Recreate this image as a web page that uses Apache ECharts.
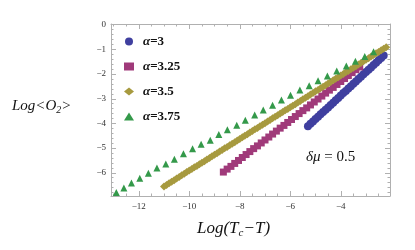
<!DOCTYPE html>
<html><head><meta charset="utf-8">
<script src="https://cdn.jsdelivr.net/npm/echarts@6/dist/echarts.min.js"></script>
<style>html,body{margin:0;padding:0;background:#fff}#c{width:415px;height:250px}</style>
</head><body><div id="c"></div>
<script>
var seriesNames = ['α=3', 'α=3.25', 'α=3.5', 'α=3.75'];
var xMajorTicks = [-12, -10, -8, -6, -4];
var yMajorTicks = [0, -1, -2, -3, -4, -5, -6];
var xMinorTicks = [-13, -12.5, -11.5, -11, -10.5, -9.5, -9, -8.5, -7.5, -7, -6.5, -5.5, -5, -4.5, -3.5, -3, -2.5];
var yMinorTicks = [-0.2,-0.4,-0.6,-0.8,-1.2,-1.4,-1.6,-1.8,-2.2,-2.4,-2.6,-2.8,-3.2,-3.4,-3.6,-3.8,-4.2,-4.4,-4.6,-4.8,-5.2,-5.4,-5.6,-5.8,-6.2,-6.4,-6.6,-6.8];

var alpha3 = [
[-5.3,-4.11],[-5.2,-4.01],[-5.1,-3.92],[-5.0,-3.82],[-4.9,-3.73],[-4.8,-3.63],[-4.7,-3.54],[-4.6,-3.44],
[-4.5,-3.35],[-4.4,-3.25],[-4.3,-3.16],[-4.2,-3.06],[-4.1,-2.97],[-4.0,-2.87],[-3.9,-2.77],[-3.8,-2.68],
[-3.7,-2.58],[-3.6,-2.49],[-3.5,-2.39],[-3.4,-2.30],[-3.3,-2.20],[-3.2,-2.11],[-3.1,-2.01],[-3.0,-1.92],
[-2.9,-1.82],[-2.8,-1.73],[-2.7,-1.63],[-2.6,-1.54],[-2.5,-1.44],[-2.4,-1.35],[-2.3,-1.25]];

var alpha325 = [
[-8.65,-5.97],[-8.50,-5.85],[-8.35,-5.74],[-8.20,-5.62],[-8.05,-5.50],[-7.90,-5.38],[-7.75,-5.26],[-7.60,-5.14],
[-7.45,-5.02],[-7.30,-4.91],[-7.15,-4.79],[-7.00,-4.67],[-6.85,-4.55],[-6.70,-4.43],[-6.55,-4.31],[-6.40,-4.19],
[-6.25,-4.08],[-6.10,-3.96],[-5.95,-3.84],[-5.80,-3.72],[-5.65,-3.60],[-5.50,-3.48],[-5.35,-3.37],[-5.20,-3.25],
[-5.05,-3.13],[-4.90,-3.01],[-4.75,-2.89],[-4.60,-2.77],[-4.45,-2.65],[-4.30,-2.54],[-4.15,-2.42],[-4.00,-2.30],
[-3.85,-2.18],[-3.70,-2.06],[-3.55,-1.94],[-3.40,-1.82],[-3.25,-1.71]];

var alpha35 = [
[-11.0,-6.55],[-10.9,-6.49],[-10.8,-6.42],[-10.7,-6.36],[-10.6,-6.30],[-10.5,-6.23],[-10.4,-6.17],[-10.3,-6.10],
[-10.2,-6.04],[-10.1,-5.97],[-10.0,-5.91],[-9.9,-5.85],[-9.8,-5.78],[-9.7,-5.72],[-9.6,-5.65],[-9.5,-5.59],
[-9.4,-5.53],[-9.3,-5.46],[-9.2,-5.40],[-9.1,-5.33],[-9.0,-5.27],[-8.9,-5.21],[-8.8,-5.14],[-8.7,-5.08],
[-8.6,-5.01],[-8.5,-4.95],[-8.4,-4.88],[-8.3,-4.82],[-8.2,-4.76],[-8.1,-4.69],[-8.0,-4.63],[-7.9,-4.56],
[-7.8,-4.50],[-7.7,-4.44],[-7.6,-4.37],[-7.5,-4.31],[-7.4,-4.24],[-7.3,-4.18],[-7.2,-4.11],[-7.1,-4.05],
[-7.0,-3.99],[-6.9,-3.92],[-6.8,-3.86],[-6.7,-3.79],[-6.6,-3.73],[-6.5,-3.67],[-6.4,-3.60],[-6.3,-3.54],
[-6.2,-3.47],[-6.1,-3.41],[-6.0,-3.34],[-5.9,-3.28],[-5.8,-3.22],[-5.7,-3.15],[-5.6,-3.09],[-5.5,-3.02],
[-5.4,-2.96],[-5.3,-2.90],[-5.2,-2.83],[-5.1,-2.77],[-5.0,-2.70],[-4.9,-2.64],[-4.8,-2.57],[-4.7,-2.51],
[-4.6,-2.45],[-4.5,-2.38],[-4.4,-2.32],[-4.3,-2.25],[-4.2,-2.19],[-4.1,-2.13],[-4.0,-2.06],[-3.9,-2.00],
[-3.8,-1.93],[-3.7,-1.87],[-3.6,-1.80],[-3.5,-1.74],[-3.4,-1.68],[-3.3,-1.61],[-3.2,-1.55],[-3.1,-1.48],
[-3.0,-1.42],[-2.9,-1.36],[-2.8,-1.29],[-2.7,-1.23],[-2.6,-1.16],[-2.5,-1.10],[-2.4,-1.03],[-2.3,-0.97],
[-2.2,-0.91]];

var alpha375 = [
[-12.89,-6.80],[-12.59,-6.62],[-12.29,-6.41],[-11.96,-6.22],[-11.62,-6.02],[-11.28,-5.81],[-10.93,-5.64],[-10.59,-5.45],
[-10.23,-5.23],[-9.87,-5.03],[-9.53,-4.84],[-9.17,-4.68],[-8.83,-4.45],[-8.49,-4.26],[-8.12,-4.07],[-7.78,-3.87],
[-7.41,-3.66],[-7.07,-3.45],[-6.70,-3.26],[-6.35,-3.05],[-5.99,-2.86],[-5.62,-2.64],[-5.25,-2.47],[-4.90,-2.27],
[-4.53,-2.08],[-4.16,-1.87],[-3.78,-1.67],[-3.42,-1.48],[-3.05,-1.29],[-2.70,-1.09]];

var xMin = -13.1, xMax = -2.05, yMin = -6.94, yMax = 0.03;
var frameColor = '#b0b0b0';
var labelFont = {color:'#333', fontFamily:'Liberation Serif', fontSize:9};

function fmt(v){ return String(v).replace('-', '\u2212'); }

function xAx(pos, ticks, len, showLabel, showLine){
  return {type:'value', position:pos, min:xMin, max:xMax, gridIndex:0,
    axisLine:{show:showLine, onZero:false, lineStyle:{color:frameColor, width:1}},
    axisTick:{show:true, inside:true, length:len, customValues:ticks, lineStyle:{color:frameColor}},
    axisLabel:{show:showLabel, customValues:ticks, formatter:fmt, margin:6, color:labelFont.color, fontFamily:labelFont.fontFamily, fontSize:labelFont.fontSize},
    splitLine:{show:false}};
}
function yAx(pos, ticks, len, showLabel, showLine){
  return {type:'value', position:pos, min:yMin, max:yMax, gridIndex:0,
    axisLine:{show:showLine, onZero:false, lineStyle:{color:frameColor, width:1}},
    axisTick:{show:true, inside:true, length:len, customValues:ticks, lineStyle:{color:frameColor}},
    axisLabel:{show:showLabel, customValues:ticks, formatter:fmt, margin:5, color:labelFont.color, fontFamily:labelFont.fontFamily, fontSize:labelFont.fontSize},
    splitLine:{show:false}};
}

var chart = echarts.init(document.getElementById('c'), null, {renderer:'canvas'});
chart.setOption({
  animation:false,
  backgroundColor:'#fff',
  grid:{left:111, right:25, top:24, bottom:54, containLabel:false},
  xAxis:[
    xAx('bottom', xMajorTicks, 5, true, true),
    xAx('bottom', xMinorTicks, 2.5, false, false),
    xAx('top', xMajorTicks, 5, false, true),
    xAx('top', xMinorTicks, 2.5, false, false)
  ],
  yAxis:[
    yAx('left', yMajorTicks, 5, true, true),
    yAx('left', yMinorTicks, 2.5, false, false),
    yAx('right', yMajorTicks, 5, false, true),
    yAx('right', yMinorTicks, 2.5, false, false)
  ],
  legend:{
    orient:'vertical', left:124, top:35, padding:0, itemGap:12, itemWidth:10, itemHeight:8,
    data:[
      {name:seriesNames[0], icon:'circle'},
      {name:seriesNames[1], icon:'rect'},
      {name:seriesNames[2], icon:'diamond'},
      {name:seriesNames[3], icon:'triangle'}
    ],
    formatter:function(n){ return '{a|α}{b|' + n.slice(1) + '}'; },
    textStyle:{rich:{
      a:{fontFamily:'Liberation Serif', fontStyle:'italic', fontWeight:'bold', fontSize:13, lineHeight:14, color:'#111', padding:[0,0,0,4]},
      b:{fontFamily:'Liberation Serif', fontWeight:'bold', fontSize:13, lineHeight:14, color:'#111'}
    }}
  },
  series:[
    {name:seriesNames[0], type:'scatter', data:alpha3, symbol:'circle', symbolSize:8, itemStyle:{color:'#3f3f9f', opacity:1}},
    {name:seriesNames[1], type:'scatter', data:alpha325, symbol:'rect', symbolSize:7, itemStyle:{color:'#a03a7a', opacity:1}},
    {name:seriesNames[2], type:'scatter', data:alpha35, symbol:'diamond', symbolSize:8, itemStyle:{color:'#a79a3f', opacity:1}},
    {name:seriesNames[3], type:'scatter', data:alpha375, symbol:'triangle', symbolSize:7, itemStyle:{color:'#34994a', opacity:1}}
  ],
  graphic:[
    {type:'text', left:12, top:99, style:{
      text:'{i|Log<O}{s|2}{i|>}',
      rich:{
        i:{fontFamily:'Liberation Serif', fontStyle:'italic', fontSize:15, fill:'#111'},
        s:{fontFamily:'Liberation Serif', fontStyle:'italic', fontSize:10, fill:'#111', padding:[8,0,0,0]}
      }}},
    {type:'text', left:197, top:220, style:{
      text:'{i|Log(T}{s|c}{i|\u2212T)}',
      rich:{
        i:{fontFamily:'Liberation Serif', fontStyle:'italic', fontSize:17, fill:'#111'},
        s:{fontFamily:'Liberation Serif', fontStyle:'italic', fontSize:11, fill:'#111', padding:[9,0,0,0]}
      }}},
    {type:'text', left:306, top:150, style:{
      text:'{i|δμ}{n| = 0.5}',
      rich:{
        i:{fontFamily:'Liberation Serif', fontStyle:'italic', fontSize:15, fill:'#111'},
        n:{fontFamily:'Liberation Serif', fontSize:15, fill:'#111'}
      }}}
  ]
});
</script></body></html>
